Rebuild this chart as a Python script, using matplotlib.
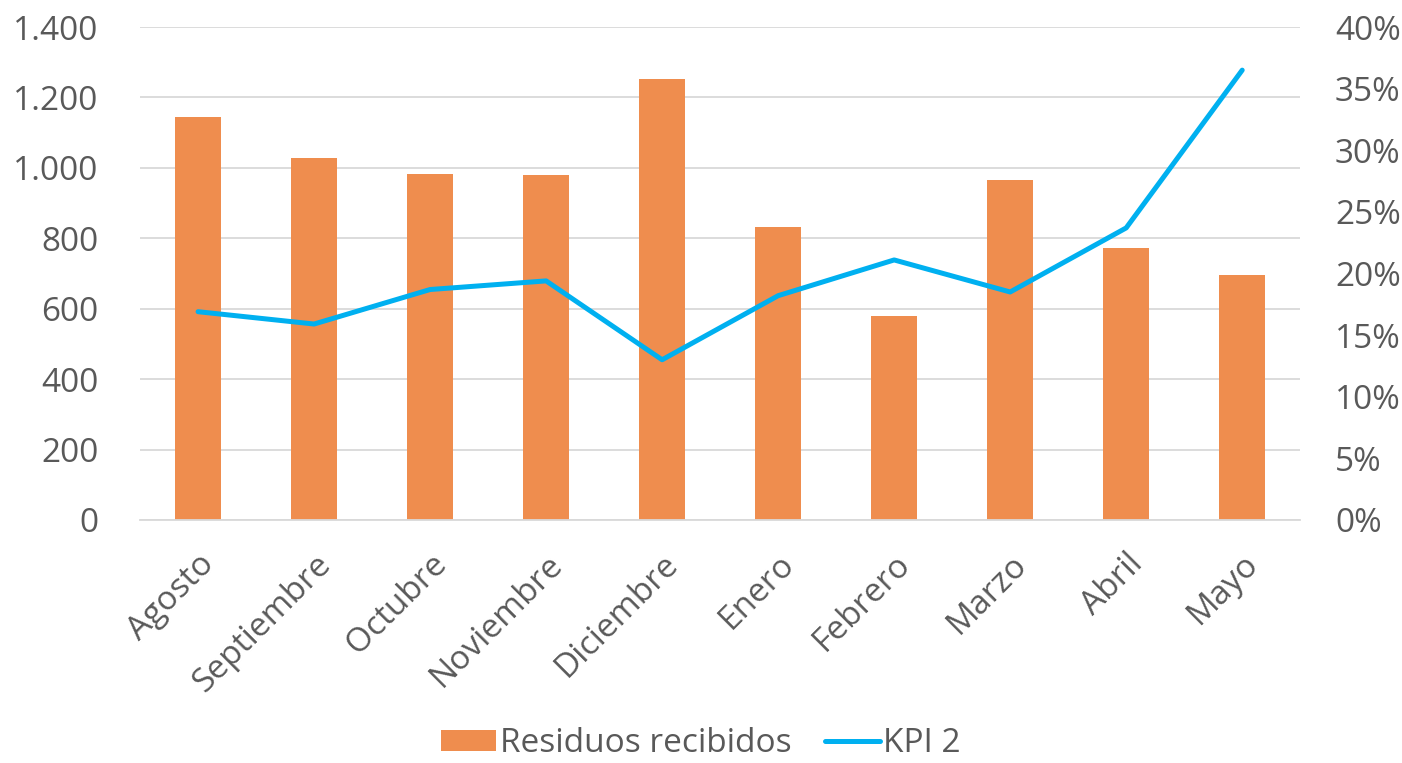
import numpy as np
import matplotlib.pyplot as plt
from matplotlib.ticker import FuncFormatter, MultipleLocator

# Monthly data
months = ['Agosto', 'Septiembre', 'Octubre', 'Noviembre', 'Diciembre',
          'Enero', 'Febrero', 'Marzo', 'Abril', 'Mayo']
residuos = [1144, 1028, 982, 980, 1252, 832, 579, 965, 772, 696]
kpi2 = [16.9, 15.9, 18.7, 19.4, 13.0, 18.2, 21.1, 18.5, 23.7, 36.5]

plt.rcParams['font.family'] = ['Open Sans', 'DejaVu Sans']
text_color = '#595959'
grid_color = '#d9d9d9'
fs = 24

fig = plt.figure(figsize=(14.02, 7.63), dpi=100)
ax = fig.add_axes([0.0999, 0.3185, 0.8275, 0.6461])
ax2 = ax.twinx()

x = np.arange(len(months))
bars = ax.bar(x, residuos, width=0.4, color='#EF8D4E', label='Residuos recibidos', zorder=2)
line, = ax2.plot(x, kpi2, color='#00B0F0', linewidth=3.6, solid_capstyle='round',
                 solid_joinstyle='round', label='KPI 2', zorder=3)

ax.set_xlim(-0.5, len(months) - 0.5)
ax.set_ylim(0, 1400)
ax2.set_ylim(0, 40)
ax.yaxis.set_major_locator(MultipleLocator(200))
ax2.yaxis.set_major_locator(MultipleLocator(5))
ax.yaxis.set_major_formatter(FuncFormatter(lambda v, p: f'{int(v):,}'.replace(',', '.')))
ax2.yaxis.set_major_formatter(FuncFormatter(lambda v, p: f'{int(v)}%'))

ax.grid(axis='y', color=grid_color, linewidth=1.3, zorder=0)
ax.set_axisbelow(True)
for a in (ax, ax2):
    for s in a.spines.values():
        s.set_visible(False)
    a.tick_params(length=0, labelsize=fs, labelcolor=text_color)
ax.spines['bottom'].set_visible(True)
ax.spines['bottom'].set_color(grid_color)
ax.spines['bottom'].set_linewidth(1.3)
ax.tick_params(axis='y', pad=30)
ax2.tick_params(axis='y', pad=25)

ax.set_xticks(x)
ax.set_xticklabels(months, rotation=45, ha='right', rotation_mode='anchor')
ax.tick_params(axis='x', pad=20)

fig.legend(handles=[bars, line], labels=['Residuos recibidos', 'KPI 2'],
           loc='lower center', bbox_to_anchor=(0.5, -0.036), ncol=2, frameon=False,
           fontsize=fs, labelcolor=text_color, handlelength=1.65, handleheight=0.6,
           handletextpad=0.1, columnspacing=1.0)

fig.savefig('out.png', dpi=100)
